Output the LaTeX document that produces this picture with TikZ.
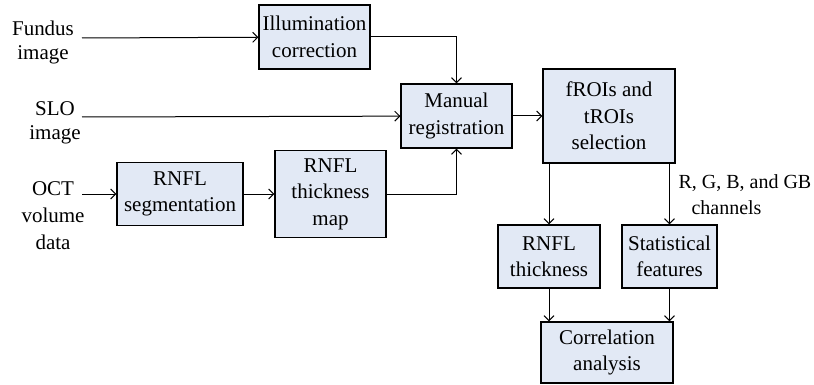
\documentclass[tikz,border=0pt]{standalone}
\usepackage{fontspec}
\setmainfont{Liberation Serif}
\usetikzlibrary{positioning,arrows.meta}
\definecolor{boxblue}{RGB}{226,233,245}
\tikzset{
flow/.style={
    x=1pt,
    y=-1pt,
    line width=1pt,
    >={Straight Barb[length=5pt,width=10pt]},
    font=\fontsize{21}{26.5}\selectfont
},
proc/.style={
    rectangle,
    draw,
    line width=1.2pt,
    fill=boxblue,
    align=center,
    inner sep=1pt
},
src/.style={
    align=center,
    inner sep=1pt,
    font=\fontsize{21}{24}\selectfont
},
sees/.style={
    ->
}}

\begin{document}
\begin{tikzpicture}[flow]
\useasboundingbox (0,0) rectangle (814,385);

\node[src]     (fundus)    at (43,42)       {Fundus\\image};
\node[src]     (slo)       at (55,123)      {SLO\\image};
\node[src, font=\fontsize{21}{27}\selectfont]     (oct)       at (53,216)      {OCT\\volume\\data};
\coordinate    (fundusout) at (82,38);
\coordinate    (sloout)    at (82,117);
\coordinate    (octout)    at (82,194);

\node[proc, minimum width=111, minimum height=64]    (illum)   at (314.5,37)    {Illumination\\correction};
\node[proc, minimum width=111, minimum height=64]    (manual)  at (456.5,116)   {Manual\\registration};
\node[proc, minimum width=132, minimum height=94]    (frois)   at (609,116)     {fROIs and\\tROIs\\selection};
\node[proc, minimum width=126, minimum height=63]    (seg)     at (180,194)     {RNFL\\segmentation};
\node[proc, minimum width=111, minimum height=87]    (map)     at (330.5,194)   {RNFL\\thickness\\map};
\node[proc, minimum width=102, minimum height=63]    (thick)   at (549,256.5)   {RNFL\\thickness};
\node[proc, minimum width=95,  minimum height=63]    (stat)    at (669.5,256.5) {Statistical\\features};
\node[proc, minimum width=132, minimum height=61]    (corr)    at (607,352.5)   {Correlation\\analysis};
\node[src, align=left, anchor=west, font=\fontsize{20}{26.5}\selectfont]    (chan)    at (677,194.5)    {R, G, B, and GB\\\hspace*{13pt}channels};

\draw[sees]    (fundusout)    --    (illum);
\draw[sees]    (sloout)       --    (manual);
\draw[sees]    (octout)       --    (seg);
\draw[sees]    (seg)          --    (map);

\draw[sees]    (illum)    -|    (manual);
\draw[sees]    (map)      -|    (manual);
\draw[sees]    (manual)   --    (frois);

\draw[sees]    (thick |- frois.south)    --    (thick);
\draw[sees]    (stat |- frois.south)     --    (stat);

\draw[sees]    (thick)    --    (thick |- corr.north);
\draw[sees]    (stat)     --    (stat |- corr.north);
\end{tikzpicture}
\end{document}
